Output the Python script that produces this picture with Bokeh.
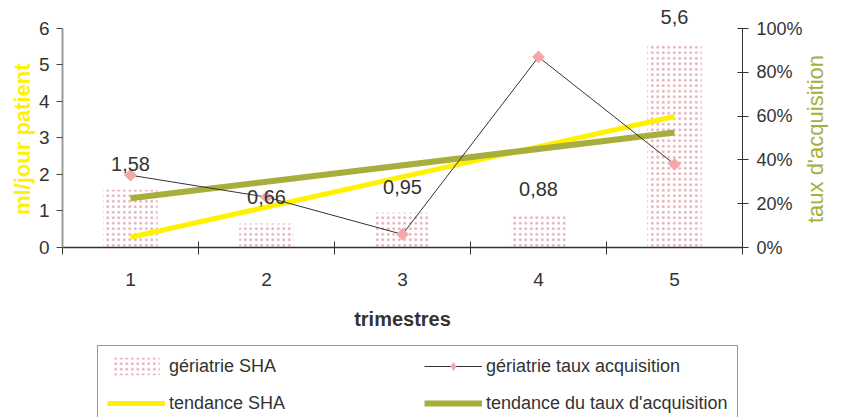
import numpy as np
from bokeh.plotting import figure
from bokeh.layouts import column
from bokeh.models import (Range1d, LinearAxis, FixedTicker, NumeralTickFormatter,
                          Legend, LegendItem, ColumnDataSource)
from bokeh.embed import file_html
from bokeh.resources import INLINE
from bokeh.core.properties import value

# ---- data ----
trimestres = [1, 2, 3, 4, 5]
tick_labels = ["1", "2", "3", "4", "5"]
sha = [1.58, 0.66, 0.95, 0.88, 5.6]              # ml/jour patient (bars)
taux = [0.33, 0.23, 0.06, 0.87, 0.38]            # taux d'acquisition (line)
trend_x = [1, 5]
tendance_sha = [0.28, 3.59]
tendance_taux = [0.225, 0.525]
left_ticks = [0, 1, 2, 3, 4, 5, 6]
pct_ticks = [0, 0.2, 0.4, 0.6, 0.8, 1.0]
sha_labels = [f"{v:g}".replace(".", ",") for v in sha]
legend_labels = ["gériatrie SHA", "gériatrie taux acquisition",
                 "tendance SHA", "tendance du taux d'acquisition"]

FONT = "Liberation Sans"
TXT = "#333333"
YELLOW = "#FFF200"
GREEN = "#A7AE3B"
PINK = "#F4A7A9"
NB = "\u00a0"
BAR_STYLE = dict(fill_color="white", fill_alpha=0, line_color=None, hatch_pattern="dot",
                 hatch_color="#DD96A0", hatch_alpha=0.8, hatch_scale=5.5, hatch_weight=0.5)
TAUX_LINE = dict(line_color="#333333", line_width=1)
SHA_TREND = dict(line_color=YELLOW, line_width=5)
TAUX_TREND = dict(line_color=GREEN, line_width=6)

p = figure(width=843, height=345, output_backend="svg", toolbar_location=None,
           x_range=Range1d(0.5, 5.5), y_range=Range1d(0, 6.767),
           min_border_left=62, min_border_right=95, min_border_top=0,
           min_border_bottom=98)
p.extra_y_ranges = {"pct": Range1d(0, 1.1279)}
p.outline_line_color = None
p.grid.visible = False
p.background_fill_color = "white"
p.border_fill_color = "white"

src = ColumnDataSource(dict(x=trimestres, sha=sha, taux=taux, lab=sha_labels))
trend_src = ColumnDataSource(dict(x=trend_x, sha=tendance_sha, taux=tendance_taux))

p.vbar(x="x", top="sha", width=0.4, source=src, **BAR_STYLE)
p.line(x="x", y="sha", source=trend_src, **SHA_TREND)
p.line(x="x", y="taux", source=trend_src, y_range_name="pct", **TAUX_TREND)
p.line(x="x", y="taux", source=src, y_range_name="pct", **TAUX_LINE)
p.scatter(x="x", y="taux", source=src, y_range_name="pct", marker="square",
          angle=np.pi / 4, size=9, fill_color=PINK, line_color=None)

p.text(x="x", y="sha", text="lab", source=src, text_align="center",
       text_baseline="middle", y_offset=-26, text_font=value(FONT),
       text_font_size="20px", text_color=TXT)

# ---- x axis ----
xa = p.xaxis[0]
xa.ticker = FixedTicker(ticks=trimestres,
                        minor_ticks=[t - 0.5 for t in trimestres] + [trimestres[-1] + 0.5])
xa.major_label_overrides = {t: l for t, l in zip(trimestres, tick_labels)}
xa.axis_line_color = "#333333"
xa.axis_line_width = 1.5
xa.major_tick_line_color = None
xa.major_tick_out = 0
xa.major_tick_in = 0
xa.minor_tick_line_color = "#333333"
xa.minor_tick_in = 6
xa.minor_tick_out = 7
xa.major_label_standoff = 18
xa.major_label_text_font = FONT
xa.major_label_text_font_size = "19px"
xa.major_label_text_color = TXT
xa.axis_label = "trimestres"
xa.axis_label_standoff = 19
xa.axis_label_text_font = FONT
xa.axis_label_text_font_size = "20px"
xa.axis_label_text_font_style = "bold"
xa.axis_label_text_color = TXT

# ---- left axis ----
ya = p.yaxis[0]
ya.ticker = FixedTicker(ticks=left_ticks)
ya.bounds = (0, 6)
ya.axis_line_color = "#9B9B9B"
ya.axis_line_width = 2
ya.major_tick_line_color = "#444444"
ya.major_tick_out = 6
ya.major_tick_in = 0
ya.minor_tick_line_color = None
ya.major_label_standoff = 7
ya.major_label_text_font = FONT
ya.major_label_text_font_size = "19px"
ya.major_label_text_color = TXT
ya.axis_label = "ml/jour patient" + NB * 5
ya.axis_label_standoff = 1
ya.axis_label_text_font = FONT
ya.axis_label_text_font_size = "22px"
ya.axis_label_text_font_style = "bold"
ya.axis_label_text_color = YELLOW

# ---- right axis ----
ra = LinearAxis(y_range_name="pct", ticker=FixedTicker(ticks=pct_ticks),
                formatter=NumeralTickFormatter(format="0%"), bounds=(0, 1))
ra.axis_line_color = "#333333"
ra.axis_line_width = 1
ra.major_tick_line_color = "#333333"
ra.major_tick_out = 6
ra.major_tick_in = 5
ra.minor_tick_line_color = None
ra.major_label_standoff = 8
ra.major_label_text_font = FONT
ra.major_label_text_font_size = "18px"
ra.major_label_text_color = TXT
ra.axis_label_standoff = 10
ra.axis_label_text_font = FONT
ra.axis_label_text_font_size = "22px"
ra.axis_label_text_font_style = "normal"
ra.axis_label_text_color = GREEN
if hasattr(ra, "axis_label_orientation") and hasattr(ra, "axis_label_align"):
    ra.axis_label_orientation = np.pi / 2
    ra.axis_label_align = "start"
    ra.axis_label = NB * 4 + "taux d'acquisition"
else:
    ra.axis_label = "taux d'acquisition"
p.add_layout(ra, "right")

# ---- legend (own strip below the chart) ----
q = figure(width=843, height=72, output_backend="svg", toolbar_location=None,
           x_range=Range1d(100, 101), y_range=Range1d(100, 101),
           x_axis_type=None, y_axis_type=None,
           min_border_left=0, min_border_right=0, min_border_top=0, min_border_bottom=0)
q.outline_line_color = None
q.grid.visible = False
q.background_fill_color = "white"
q.border_fill_color = "white"
# legend swatches reuse the same data, kept outside the (empty) view of this strip
r_bar = q.vbar(x="x", top="sha", width=0.4, source=src, **BAR_STYLE)
r_tl = q.line(x="x", y="taux", source=src, **TAUX_LINE)
r_tm = q.scatter(x="x", y="taux", source=src, marker="diamond", size=13,
                 fill_color=PINK, line_color=None)
r_ts = q.line(x="x", y="sha", source=trend_src, **SHA_TREND)
r_tt = q.line(x="x", y="taux", source=trend_src, **TAUX_TREND)

legend = Legend(items=[
    LegendItem(label=legend_labels[0], renderers=[r_bar]),
    LegendItem(label=legend_labels[1], renderers=[r_tl, r_tm]),
    LegendItem(label=legend_labels[2], renderers=[r_ts]),
    LegendItem(label=legend_labels[3], renderers=[r_tt]),
], location=(35, -7), orientation="horizontal", ncols=2,
    padding=9, spacing=15, glyph_width=58, glyph_height=22, label_height=22,
    label_width=240, label_standoff=4, margin=0,
    border_line_color="#333333", border_line_width=1,
    background_fill_color="white", background_fill_alpha=1,
    label_text_font=FONT, label_text_font_size="18px", label_text_color=TXT)
q.add_layout(legend, "center")

layout = column(p, q, spacing=0)
open("out.html", "w").write(file_html(layout, INLINE))
